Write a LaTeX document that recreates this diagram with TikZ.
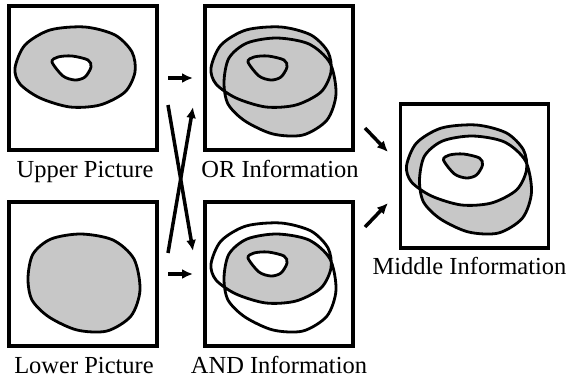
\documentclass[tikz,border=0pt]{standalone}
\usepackage{fontspec}
\setmainfont{Liberation Serif}
\usetikzlibrary{arrows.meta}

% outlines, measured from the top left corner of a frame
\newcommand{\ringpath}{plot[smooth cycle] coordinates {(6,62) (16,39) (41,24) (76,21) (106,29) (123,46) (126,66) (116,86) (91,99) (61,101) (31,92) (11,78)}}
\newcommand{\holepath}{plot[smooth cycle] coordinates {(43,56) (49,51) (63,50) (79,54) (82,61) (76,71) (66,74) (54,70)}}
\newcommand{\discpath}{plot[smooth cycle] coordinates {(19,76) (24,52) (42,37) (72,32) (104,38) (125,57) (131,88) (122,114) (98,129) (68,128) (40,115) (23,98)}}

\begin{document}
\begin{tikzpicture}[x=1pt, y=-1pt,
    frame/.style={rectangle, draw, line width=3.5pt, minimum width=148pt, minimum height=144pt, inner sep=0pt, outer sep=0pt},
    lbl/.style={anchor=base, font=\fontsize{24.5}{29}\selectfont},
    blobfill/.style={fill=black!22},
    blobline/.style={draw, line width=2.8pt},
    arr/.style={-{Latex[length=11pt, width=10pt]}, line width=3.5pt}]
  \useasboundingbox (0,0) rectangle (569,378);
  % Frames
  \node (upper) [frame] at (83,78) {};
  \node (or) [frame] at (279,78) {};
  \node (lower) [frame] at (83,274) {};
  \node (and) [frame] at (279,274) {};
  \node (middle) [frame] at (474.5,176) {};
  % Labels
  \node (upperlbl) [lbl] at (85,177) {Upper Picture};
  \node (orlbl) [lbl] at (280,177) {OR Information};
  \node (lowerlbl) [lbl] at (84,373) {Lower Picture};
  \node (andlbl) [lbl] at (279,373) {AND Information};
  \node (middlelbl) [lbl] at (469.5,274) {Middle Information};
  % Upper picture
  \begin{scope}[shift={(upper.north west)}]
    \fill[blobfill] \ringpath;
    \fill[white] \holepath;
    \path[blobline] \ringpath \holepath;
  \end{scope}
  % Lower picture
  \begin{scope}[shift={(lower.north west)}]
    \path[blobfill, blobline] \discpath;
  \end{scope}
  % OR
  \begin{scope}[shift={(or.north west)}]
    \fill[blobfill] \ringpath \discpath;
    \path[blobline] \ringpath \discpath \holepath;
  \end{scope}
  % AND
  \begin{scope}[shift={(and.north west)}]
    \begin{scope}
      \clip \discpath;
      \fill[blobfill] \ringpath;
    \end{scope}
    \fill[white] \holepath;
    \path[blobline] \ringpath \discpath \holepath;
  \end{scope}
  % Middle
  \begin{scope}[shift={(middle.north west)}]
    \fill[blobfill, even odd rule] \ringpath \discpath \holepath;
    \path[blobline] \ringpath \discpath \holepath;
  \end{scope}
  % Arrows
  \coordinate (x1) at (168,105);
  \coordinate (x2) at (193,251);
  \coordinate (x3) at (168,253);
  \coordinate (x4) at (193,107);
  \coordinate (m1) at (365,128);
  \coordinate (m2) at (388,152);
  \coordinate (m3) at (365,227);
  \coordinate (m4) at (388,203);
  \draw[arr, shorten <=11pt, shorten >=12pt] (upper) -- (or);
  \draw[arr, shorten <=11pt, shorten >=12pt] (lower) -- (and);
  \draw[arr] (x1) -- (x2);
  \draw[arr] (x3) -- (x4);
  \draw[arr] (m1) -- (m2);
  \draw[arr] (m3) -- (m4);
\end{tikzpicture}
\end{document}
